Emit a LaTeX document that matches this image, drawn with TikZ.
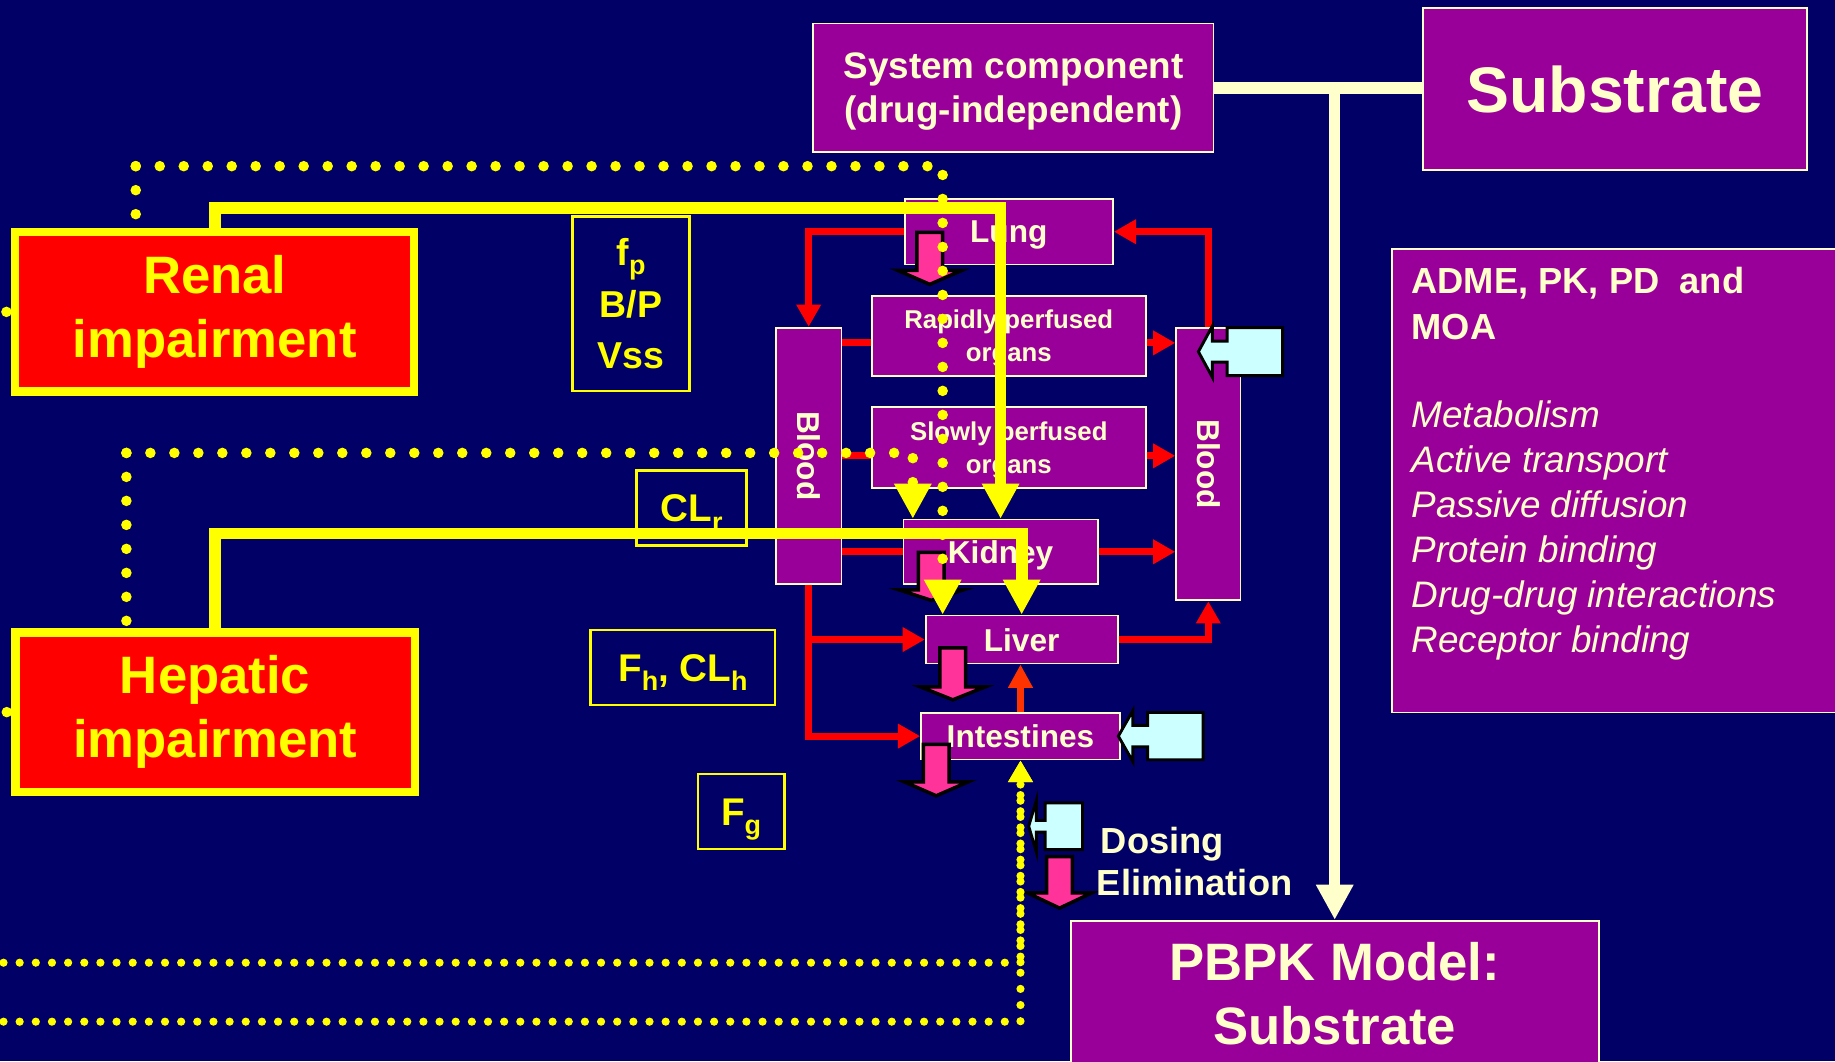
\documentclass[tikz,border=0pt]{standalone}
\usepackage{fontspec}
\setmainfont{Liberation Sans}
\usetikzlibrary{arrows.meta,calc}
\definecolor{navy}{RGB}{0,0,102}
\definecolor{ppl}{RGB}{153,0,153}
\definecolor{cream}{RGB}{255,255,204}
\definecolor{yel}{RGB}{255,255,0}
\definecolor{redc}{RGB}{255,0,0}
\definecolor{pinkc}{RGB}{255,51,153}
\definecolor{cyanc}{RGB}{204,255,255}
\definecolor{orng}{RGB}{255,51,0}
\pgfdeclarelayer{top}
\pgfsetlayers{main,top}
\newcommand{\sbx}[1]{\raisebox{-8pt}{\fontsize{23}{23}\selectfont #1}}
\newcommand{\elim}[4]{%
  \filldraw[elimsty] (#1-11,#2) -- (#1+11,#2) -- (#1+11,#3) -- (#1+27.5,#3) -- (#1,#4) -- (#1-27.5,#3) -- (#1-11,#3) -- cycle;}
\newcommand{\dose}[8]{%
  \filldraw[dosesty] (#1,#5) -- (#2,#5-#6) -- (#2,#5-#8) -- (#3,#5-#8) -- (#3,#5-#7) -- (#4,#5-#7) -- (#4,#5+#7) -- (#3,#5+#7) -- (#3,#5+#8) -- (#2,#5+#8) -- (#2,#5+#6) -- cycle;}
\tikzset{
  pbox/.style={draw=cream, line width=1.5pt, fill=ppl, text=cream, inner sep=0pt, align=center, text depth=0pt},
  ibox/.style={draw=yel, line width=7pt, fill=redc, text=yel, inner sep=0pt, align=center,
    minimum width=341pt, minimum height=136pt, font={\bfseries\fontsize{45}{55}\selectfont}},
  parbox/.style={draw=yel, line width=2pt, text=yel, inner sep=0pt, align=center},
  redln/.style={draw=redc, line width=6pt},
  redarr/.style={redln, -{Triangle[width=20pt,length=19pt]}},
  orarr/.style={draw=orng, line width=6pt, -{Triangle[width=20pt,length=20pt]}},
  ythick/.style={draw=yel, line width=10pt, -{Triangle[width=30pt,length=30pt]}},
  dotsA/.style={draw=yel, line width=9pt, line cap=round, dash pattern=on 0pt off 20.5pt},
  dotsAarr/.style={dotsA, -{Triangle[width=30pt,length=30pt]}},
  dotsB/.style={draw=yel, line width=7pt, line cap=round, dash pattern=on 0pt off 13.8pt, -{Triangle[width=20pt,length=18.5pt]}},
  elimsty/.style={fill=pinkc, draw=black, line width=3pt, line join=miter},
  dosesty/.style={fill=cyanc, draw=black, line width=2.5pt, line join=miter},
  creamln/.style={draw=cream, line width=10pt},
  admeb/.style={text=cream, inner sep=0pt, anchor=base west, font={\bfseries\fontsize{31}{38}\selectfont}},
  admei/.style={text=cream, inner sep=0pt, anchor=base west, font={\itshape\fontsize{31.5}{38}\selectfont}},
  orgf/.style={font={\bfseries\fontsize{27}{27}\selectfont}},
  perf/.style={font={\bfseries\fontsize{22}{28}\selectfont}},
  legt/.style={text=cream, inner sep=0pt, anchor=base west, font={\bfseries\fontsize{31}{31}\selectfont}},
  singlet/.style={text height=23.6pt, text depth=0pt, font={\bfseries\fontsize{33}{33}\selectfont}}
}
\begin{document}
\begin{tikzpicture}[x=1pt,y=-1pt]
\useasboundingbox (0,0) rectangle (1568,907);
\fill[navy] (0,0) rectangle (1568,907);
\clip (0,0) rectangle (1568,907);

% ---- top boxes
\node[pbox, minimum width=342pt, minimum height=110pt, font={\bfseries\fontsize{31.5}{38}\selectfont}] (sys) at (866,75) {System component\\(drug-independent)};
\node[pbox, minimum width=328pt, minimum height=138pt, font={\bfseries\fontsize{55}{60}\selectfont}] (sub) at (1380,76) {Substrate};

% ---- ADME box
\node[pbox, minimum width=430pt, minimum height=396pt, anchor=north west] (adme) at (1189,212) {};
\node[admeb] (a1) at (1206,251) {ADME, PK, PD\ \ and};
\node[admeb] (a2) at (1206,290) {MOA};
\node[admei] (a3) at (1206,365) {Metabolism};
\node[admei] (a4) at (1206,403.5) {Active transport};
\node[admei] (a5) at (1206,442) {Passive diffusion};
\node[admei] (a6) at (1206,480.5) {Protein binding};
\node[admei] (a7) at (1206,519) {Drug-drug interactions};
\node[admei] (a8) at (1206,557.5) {Receptor binding};

% ---- PBPK box
\node[pbox, minimum width=451pt, minimum height=200pt, anchor=north] (pbpk) at (1140.5,786) {};
\node[text=cream, inner sep=0pt, align=center, font={\bfseries\fontsize{45}{54}\selectfont}] (pbpkt) at (1140.5,849) {PBPK Model:\\Substrate};

% ---- organ boxes
\node[pbox, orgf, minimum width=178pt, minimum height=56pt] (lung) at (862,198) {Lung};
\node[pbox, perf, minimum width=234pt, minimum height=68pt] (rapid) at (862,287) {Rapidly perfused\\organs};
\node[pbox, perf, minimum width=234pt, minimum height=69pt] (slow) at (862,382.5) {Slowly perfused\\organs};
\node[pbox, orgf, minimum width=166pt, minimum height=55pt] (kidney) at (855,471.5) {Kidney};
\node[pbox, minimum width=56pt, minimum height=219pt] (bloodL) at (691,389.5) {};
\node[text=cream, orgf, rotate=-90, inner sep=0pt] (bloodLt) at (bloodL.center) {Blood};
\node[pbox, minimum width=55pt, minimum height=233pt] (bloodR) at (1032.5,396.5) {};
\node[text=cream, orgf, rotate=-90, inner sep=0pt] (bloodRt) at (bloodR.center) {Blood};
\node[pbox, orgf, minimum width=164pt, minimum height=41pt] (liver) at (873,546.5) {Liver};
\node[pbox, orgf, minimum width=170pt, minimum height=40pt] (intest) at (872,629) {Intestines};

% ---- parameter boxes
\node[parbox, minimum width=100pt, minimum height=149pt, font={\bfseries\fontsize{32}{44}\selectfont}] (fpbox) at (539.3,259.5) {f\sbx{p}\\B/P\\Vss};
\node[parbox, singlet, minimum width=94pt, minimum height=64pt] (clr) at (591,434) {CL\sbx{r}};
\node[parbox, singlet, minimum width=157.6pt, minimum height=64pt] (fh) at (583.5,570.4) {F\sbx{h}, CL\sbx{h}};
\node[parbox, singlet, minimum width=74pt, minimum height=64pt] (fg) at (633.3,693.5) {F\sbx{g}};

% ---- red connectors
\draw[redarr] (lung.west) -| (bloodL.north);
\draw[redarr] (bloodR.north) |- (lung.east);
\coordinate (r0) at ($(rapid.west)+(0,6)$);
\coordinate (r1) at ($(rapid.east)+(0,6)$);
\draw[redln] (r0 -| bloodL.east) -- (r0);
\draw[redarr] (r1) -- (r1 -| bloodR.west);
\coordinate (s0) at ($(slow.west)+(0,7)$);
\coordinate (s1) at ($(slow.east)+(0,7)$);
\draw[redln] (s0 -| bloodL.east) -- (s0);
\draw[redarr] (s1) -- (s1 -| bloodR.west);
\draw[redln] (kidney.west -| bloodL.east) -- (kidney.west);
\draw[redarr] (kidney.east) -- (kidney.east -| bloodR.west);
\draw[redarr] (bloodL.south) |- (intest.west);
\draw[redarr] (bloodL.south |- liver.west) -- (liver.west);
\draw[redarr] (liver.east) -| (bloodR.south);
\draw[orarr] (intest.north) -- (intest.north |- liver.south);

% ---- elimination arrows
\elim{794.5}{198.5}{231}{243}
\elim{795.7}{472}{504}{513}
\elim{814.2}{553.5}{587}{598}
\elim{800}{636}{668}{680}
\elim{905.4}{732}{763}{776}

% ---- dosing callouts
\dose{1024}{1036}{1048.5}{1096}{300.5}{22}{20.5}{9}
\dose{955.6}{968}{980.7}{1028}{629}{21.8}{20.2}{9.2}
\dose{879}{885.5}{893}{925}{706}{22}{20}{5}

% ---- legend
\node[legt] (dosing) at (940.5,729) {Dosing};
\node[legt] (elimt) at (937,765.6) {Elimination};

% ---- cream connectors
\draw[creamln] (sys.east) -- (sub.west |- sys.east);
\draw[draw=cream, line width=9.6pt, -{Triangle[width=30pt,length=30pt]}] (pbpk.north |- sys.east) -- (pbpk.north);

% ---- impairment boxes (top layer)
\begin{pgfonlayer}{top}
\node[ibox] (renal) at (183.5,266.5) {Renal\\impairment};
\node[ibox] (hepatic) at (183.8,608.5) {Hepatic\\impairment};
\fill[yel] ($(renal.west)+(-4,0)$) circle[radius=4.5pt];
\fill[yel] ($(hepatic.west)+(-4,0)$) circle[radius=4.5pt];
\end{pgfonlayer}

% ---- thick yellow connectors
\draw[ythick] (renal.north) -- ++(0,-17) -| (kidney.north);
\draw[ythick] (hepatic.north) -- ++(0,-81.2) -| (liver.north);

% ---- dotted connectors
\coordinate (liverdot) at ($(liver.north)+(-67.5,0)$);
\coordinate (kiddot) at ($(kidney.north)+(-75,0)$);
\draw[dotsA] (116,142) -- (116,235);
\draw[dotsAarr] (116,142) -- (liverdot |- 0,142) -- (liverdot);
\draw[dotsA] (108,387) -- (108,560);
\draw[dotsAarr] (108,387) -- (kiddot |- 0,387) -- (kiddot);
\draw[dotsB] (3,822.6) -| (intest.south);
\draw[dotsB] (3,873) -| (intest.south);
\end{tikzpicture}
\end{document}
